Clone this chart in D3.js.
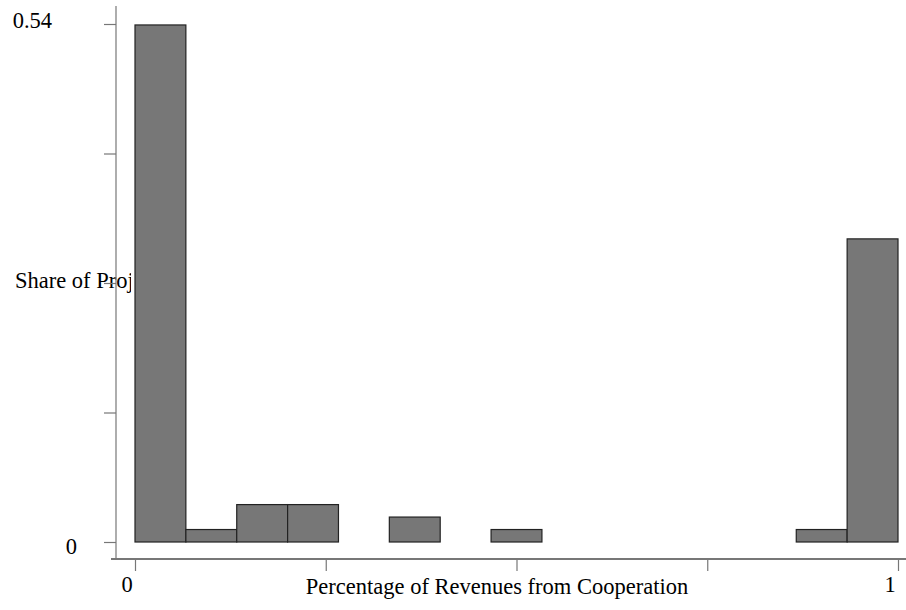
<!DOCTYPE html>
<html>
<head>
<meta charset="utf-8">
<script src="https://cdn.jsdelivr.net/npm/d3@7"></script>
<style>
  html, body { margin: 0; padding: 0; background: #fff; }
  svg { display: block; }
  text { font-family: "Liberation Serif", "Times New Roman", serif; fill: #000; }
</style>
</head>
<body>
<script>
// ---- data ----
const binStarts = [0, 1/15, 2/15, 3/15, 4/15, 5/15, 6/15, 7/15, 8/15, 9/15, 10/15, 11/15, 12/15, 13/15, 14/15];
const binWidth = 1/15;
const shares = [0.539, 0.013, 0.039, 0.039, 0, 0.026, 0, 0.013, 0, 0, 0, 0, 0, 0.013, 0.316];
const yTickValues = [0, 0.135, 0.27, 0.405, 0.54];
const yTickLabels = [{v: 0, t: "0"}, {v: 0.54, t: "0.54"}];
const xTickValues = [0, 0.25, 0.5, 0.75, 1];
const xTickLabels = [{v: 0, t: "0"}, {v: 1, t: "1"}];
const xTitle = "Percentage of Revenues from Cooperation";
const yTitle = "Share of Projects";

// ---- layout ----
const W = 906, H = 610;
const svg = d3.select("body").append("svg").attr("width", W).attr("height", H);
const x = d3.scaleLinear().domain([0, 1]).range([135, 898]);
const y = d3.scaleLinear().domain([0, 0.54]).range([542, 24]);
const axisColor = "#777";
const fontSize = 22.5;

// y title (clipped by plot region)
svg.append("clipPath").attr("id", "ytclip")
  .append("rect").attr("x", 0).attr("y", 0).attr("width", 131).attr("height", H);
svg.append("text")
  .attr("x", 15).attr("y", 288)
  .attr("font-size", fontSize)
  .attr("clip-path", "url(#ytclip)")
  .text(yTitle);

// y axis
const yAxisX = 116;
const yAxis = d3.axisLeft(y).tickValues(yTickValues).tickSize(12).tickFormat("");
const gy = svg.append("g").attr("transform", `translate(${yAxisX},0)`).call(yAxis);
gy.select(".domain").remove();
gy.selectAll(".tick line").attr("stroke", axisColor).attr("stroke-width", 1.2);
svg.append("line")
  .attr("x1", yAxisX).attr("x2", yAxisX).attr("y1", 6).attr("y2", 559)
  .attr("stroke", axisColor).attr("stroke-width", 1.2);

// x axis
const xAxisY = 559;
const xAxis = d3.axisBottom(x).tickValues(xTickValues).tickSize(12).tickFormat("");
const gx = svg.append("g").attr("transform", `translate(0,${xAxisY})`).call(xAxis);
gx.select(".domain").remove();
gx.selectAll(".tick line").attr("stroke", axisColor).attr("stroke-width", 1.2);
svg.append("line")
  .attr("x1", 111).attr("x2", W).attr("y1", xAxisY).attr("y2", xAxisY)
  .attr("stroke", axisColor).attr("stroke-width", 1.8);

// tick labels
svg.selectAll(".ylab").data(yTickLabels).enter().append("text")
  .attr("class", "ylab")
  .attr("x", d => d.v === 0 ? 77 : 52)
  .attr("y", d => y(d.v) + (d.v === 0 ? 12 : 4))
  .attr("text-anchor", "end")
  .attr("font-size", fontSize)
  .text(d => d.t);

svg.selectAll(".xlab").data(xTickLabels).enter().append("text")
  .attr("class", "xlab")
  .attr("x", d => x(d.v) - 8)
  .attr("y", 592)
  .attr("text-anchor", "middle")
  .attr("font-size", fontSize)
  .text(d => d.t);

// x title
svg.append("text")
  .attr("x", 497).attr("y", 594)
  .attr("text-anchor", "middle")
  .attr("font-size", fontSize)
  .text(xTitle);

// bars
const bars = binStarts.map((b, i) => ({x0: b, x1: b + binWidth, v: shares[i]})).filter(d => d.v > 0);
svg.selectAll(".bar").data(bars).enter().append("rect")
  .attr("class", "bar")
  .attr("x", d => x(d.x0))
  .attr("width", d => x(d.x1) - x(d.x0))
  .attr("y", d => y(d.v))
  .attr("height", d => y(0) - y(d.v))
  .attr("fill", "#777777")
  .attr("stroke", "#222")
  .attr("stroke-width", 1.2);
</script>
</body>
</html>
